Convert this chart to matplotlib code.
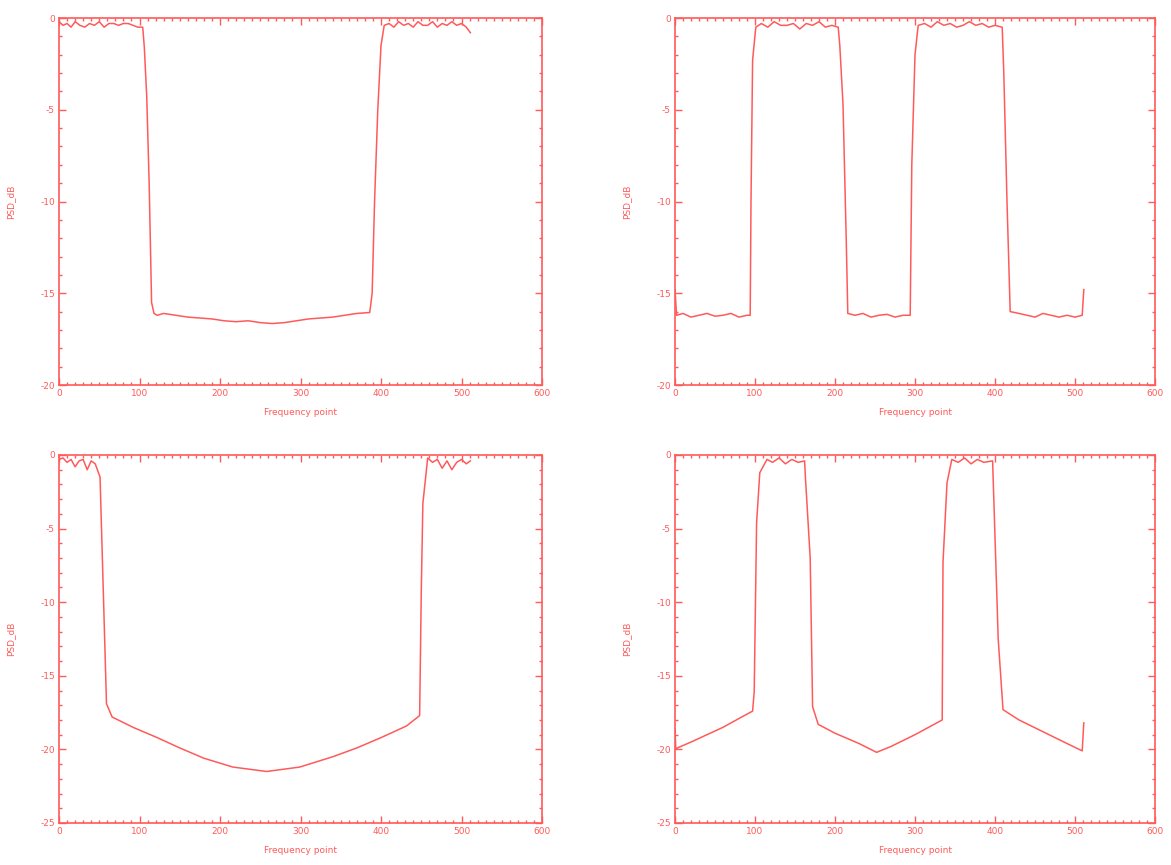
import matplotlib
matplotlib.use("Agg")
import matplotlib.pyplot as plt
from matplotlib.ticker import MultipleLocator, FuncFormatter

# ---------------- data ----------------
tl_x = [0, 5, 10, 15, 20, 26, 32, 38, 44, 50, 56, 62, 68, 74, 80, 86, 92, 98, 104,
        106, 109, 112, 115, 118, 122, 130, 145, 160, 175, 190, 205, 220, 235, 250,
        265, 280, 295, 310, 325, 340, 355, 370, 386, 389, 392, 396, 400, 404,
        410, 416, 422, 428, 434, 440, 446, 452, 458, 464, 470, 476, 482, 488, 494,
        500, 506, 511]
tl_y = [-0.2, -0.4, -0.3, -0.5, -0.2, -0.4, -0.5, -0.3, -0.4, -0.2, -0.5, -0.3, -0.3,
        -0.4, -0.3, -0.3, -0.4, -0.5, -0.5,
        -1.6, -4.3, -9.0, -15.5, -16.1, -16.2, -16.1, -16.2, -16.3, -16.35, -16.4,
        -16.5, -16.55, -16.5, -16.6, -16.65, -16.6, -16.5, -16.4, -16.35, -16.3,
        -16.2, -16.1, -16.05, -15.0, -10.0, -5.0, -1.5, -0.4,
        -0.3, -0.5, -0.2, -0.4, -0.3, -0.5, -0.2, -0.4, -0.4, -0.2, -0.5, -0.3,
        -0.4, -0.2, -0.4, -0.3, -0.5, -0.8]

tr_x = [0, 2, 10, 20, 30, 40, 50, 60, 70, 80, 90, 94, 95, 97, 101,
        108, 116, 124, 132, 140, 148, 156, 164, 172, 180, 188, 196, 204,
        206, 210, 214, 216, 225, 235, 245, 255, 265, 275, 285, 294,
        296, 300, 304, 312, 320, 328, 336, 344, 352, 360, 368, 376, 384, 392,
        400, 409, 411, 415, 419, 430, 440, 450, 460, 470, 480, 490, 500, 509, 511]
tr_y = [-14.8, -16.2, -16.1, -16.3, -16.2, -16.1, -16.25, -16.2, -16.1, -16.3, -16.2,
        -16.2, -10.0, -2.3, -0.5,
        -0.3, -0.5, -0.2, -0.4, -0.4, -0.3, -0.6, -0.3, -0.4, -0.2, -0.5, -0.4, -0.5,
        -1.5, -4.7, -12.0, -16.1, -16.2, -16.1, -16.3, -16.2, -16.15, -16.3, -16.2,
        -16.2,
        -8.0, -2.0, -0.4, -0.3, -0.5, -0.2, -0.4, -0.3, -0.5, -0.4, -0.2, -0.4, -0.3,
        -0.5, -0.4, -0.5, -3.0, -10.0, -16.0, -16.1, -16.2, -16.3, -16.1, -16.2,
        -16.3, -16.2, -16.3, -16.2, -14.8]

bl_x = [0, 5, 10, 15, 20, 25, 30, 35, 40, 45, 51, 55, 59, 66, 92, 122, 150, 180,
        216, 258, 299, 340, 370, 400, 432, 448, 450, 452, 458, 464, 470, 476, 482,
        488, 494, 500, 506, 511]
bl_y = [-0.3, -0.2, -0.5, -0.3, -0.8, -0.4, -0.3, -1.0, -0.4, -0.6, -1.5, -9.2, -16.9,
        -17.8, -18.5, -19.2, -19.9, -20.6, -21.2, -21.5, -21.2, -20.5, -19.9, -19.2,
        -18.4, -17.7, -9.4, -3.3, -0.2, -0.5, -0.3, -0.9, -0.4, -1.0, -0.5, -0.3,
        -0.6, -0.4]

br_x = [0, 1, 3, 20, 40, 60, 80, 97, 99, 102, 106, 115, 122, 130, 138, 146, 154,
        162, 163, 169, 172, 179, 200, 230, 252, 270, 300, 334, 335, 340, 346,
        354, 362, 370, 378, 386, 397, 404, 410, 430, 460, 490, 509, 511]
br_y = [-18.6, -20.0, -19.9, -19.5, -19.0, -18.5, -17.9, -17.4, -16.1, -4.6, -1.2,
        -0.3, -0.5, -0.2, -0.6, -0.3, -0.5, -0.4, -1.5, -7.0, -17.1, -18.3, -18.9,
        -19.6, -20.2, -19.8, -19.0, -18.0, -7.3, -1.9, -0.3, -0.5, -0.2, -0.6,
        -0.3, -0.5, -0.4, -12.5, -17.3, -18.0, -18.8, -19.6, -20.1, -18.2]

x_ticks = [0, 100, 200, 300, 400, 500, 600]
top_yticks = [0, -5, -10, -15, -20]
bot_yticks = [0, -5, -10, -15, -20, -25]
x_label = "Frequency point"
y_label = "PSD_dB"

# ---------------- drawing ----------------
RED = "#ff5a5a"
W, H = 1171, 865
fig = plt.figure(figsize=(W / 100, H / 100), dpi=100)

panels = [
    (tl_x, tl_y, [59, 18, 542, 385], -20, top_yticks),
    (tr_x, tr_y, [675, 18, 1155, 385], -20, top_yticks),
    (bl_x, bl_y, [59, 455, 542, 823], -25, bot_yticks),
    (br_x, br_y, [675, 455, 1155, 823], -25, bot_yticks),
]

fmt = FuncFormatter(lambda v, p: "%d" % v)

for xs, ys, (l, t, r, b), ymin, yt in panels:
    ax = fig.add_axes([l / W, 1 - b / H, (r - l) / W, (b - t) / H])
    ax.plot(xs, ys, color=RED, lw=1.1)
    ax.set_xlim(0, 600)
    ax.set_ylim(ymin, 0)
    ax.set_xticks(x_ticks)
    ax.set_yticks(yt)
    ax.xaxis.set_minor_locator(MultipleLocator(10))
    ax.yaxis.set_minor_locator(MultipleLocator(1))
    ax.xaxis.set_major_formatter(fmt)
    ax.yaxis.set_major_formatter(fmt)
    for s in ax.spines.values():
        s.set_color(RED)
        s.set_linewidth(1.2)
    ax.tick_params(which="both", direction="in", top=True, right=True,
                   colors=RED, labelcolor=RED, labelsize=6.5, width=1.0)
    ax.tick_params(which="major", length=5, pad=3)
    ax.tick_params(which="minor", length=2.5)
    ax.set_xlabel(x_label, color=RED, fontsize=6.5, labelpad=7)
    ax.set_ylabel(y_label, color=RED, fontsize=6.5, labelpad=18)

fig.savefig("out.png", dpi=100, facecolor="white")
